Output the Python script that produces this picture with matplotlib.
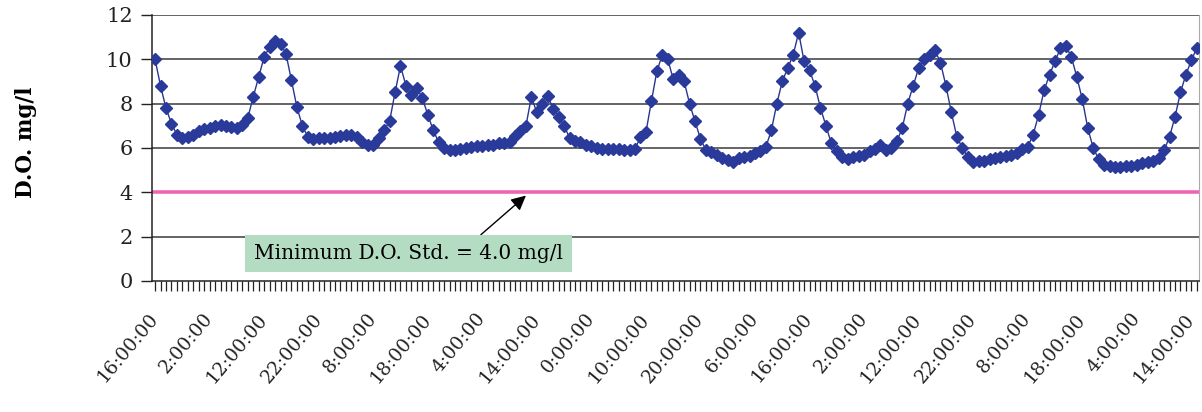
import matplotlib
matplotlib.use("Agg")
import matplotlib.pyplot as plt
import numpy as np

# Hourly dissolved-oxygen readings (mg/l), starting 16:00:00
do_values = [
    10.0, 8.8, 7.8, 7.1, 6.6, 6.45, 6.5, 6.6, 6.75, 6.85, 6.9, 7.0, 7.05, 7.0, 6.95, 6.9,
    7.05, 7.35, 8.3, 9.2, 10.1, 10.55, 10.8, 10.7, 10.25, 9.05, 7.85, 7.0, 6.5, 6.4,
    6.45, 6.45, 6.45, 6.5, 6.55, 6.6, 6.6, 6.5, 6.25, 6.15, 6.15, 6.45, 6.8, 7.2, 8.5, 9.7,
    8.8, 8.4, 8.7, 8.25, 7.5, 6.8, 6.25, 6.0, 5.9, 5.92, 5.95, 6.0, 6.02, 6.1, 6.1, 6.12,
    6.15, 6.2, 6.2, 6.25, 6.55, 6.75, 7.0, 8.3, 7.6, 8.0, 8.35, 7.75, 7.4, 7.0, 6.45, 6.3,
    6.25, 6.15, 6.1, 6.0, 5.97, 5.95, 5.93, 5.93, 5.9, 5.9, 5.95, 6.5, 6.7, 8.1, 9.45, 10.2,
    10.0, 9.1, 9.3, 9.0, 8.0, 7.2, 6.4, 5.9, 5.8, 5.7, 5.55, 5.45, 5.35, 5.55, 5.6, 5.65,
    5.75, 5.85, 6.05, 6.8, 8.0, 9.0, 9.6, 10.2, 11.2, 9.9, 9.5, 8.8, 7.8, 7.0, 6.2, 5.85,
    5.6, 5.5, 5.6, 5.65, 5.7, 5.85, 5.95, 6.15, 5.9, 6.0, 6.3, 6.9, 8.0, 8.8, 9.6, 10.0,
    10.2, 10.4, 9.85, 8.8, 7.6, 6.5, 6.0, 5.6, 5.35, 5.4, 5.42, 5.48, 5.55, 5.6, 5.65, 5.7,
    5.78, 5.95, 6.05, 6.6, 7.5, 8.6, 9.3, 9.9, 10.5, 10.6, 10.1, 9.2, 8.2, 6.9, 6.0, 5.5,
    5.25, 5.17, 5.14, 5.15, 5.18, 5.2, 5.25, 5.3, 5.37, 5.42, 5.55, 5.9, 6.5, 7.4, 8.5, 9.3,
    9.95, 10.5,
]

time_labels = ["16:00:00", "2:00:00", "12:00:00", "22:00:00", "8:00:00", "18:00:00",
               "4:00:00", "14:00:00", "0:00:00", "10:00:00", "20:00:00", "6:00:00",
               "16:00:00", "2:00:00", "12:00:00", "22:00:00", "8:00:00", "18:00:00",
               "4:00:00", "14:00:00"]
label_step = 10

min_std = 4.0
y_ticks = [0, 2, 4, 6, 8, 10, 12]
annotation_text = "Minimum D.O. Std. = 4.0 mg/l"

serif = ["DejaVu Serif"]

fig = plt.figure(figsize=(12.02, 4.12), dpi=100)
ax = fig.add_axes([0.1265, 0.318, 0.871, 0.646])

x = np.arange(len(do_values))

# grid lines
for yv in y_ticks[1:]:
    ax.axhline(yv, color="#3a3a3a", lw=1.1, zorder=1)

# minimum standard line
ax.axhline(min_std, color="#f064b4", lw=2.6, zorder=2)

ax.plot(x, do_values, color="#283592", lw=1.0, marker="D", markersize=6.3,
        markerfacecolor="#2a3a9a", markeredgecolor="#2a3a9a", zorder=3)

ax.set_xlim(-0.55, len(do_values) - 0.6)
ax.set_ylim(0, 12)

ax.set_yticks(y_ticks)
ax.set_yticklabels([str(v) for v in y_ticks], fontsize=15, family=serif)
ax.tick_params(axis="y", direction="out", length=8, width=1.0, pad=6, colors="#222222")

major = list(range(0, label_step * len(time_labels), label_step))
ax.set_xticks(major)
ax.set_xticklabels(time_labels, rotation=50, ha="right", va="center",
                   rotation_mode="anchor", fontsize=13.5, family=serif)
ax.set_xticks(np.arange(0, len(do_values)), minor=True)
ax.tick_params(axis="x", which="both", direction="out", length=7, width=0.9, pad=18,
               colors="#222222")

for s in ["left", "bottom"]:
    ax.spines[s].set_color("#222222")
    ax.spines[s].set_linewidth(1.1)
ax.spines["top"].set_visible(False)
ax.spines["right"].set_color("#aaaaaa")
ax.spines["right"].set_linewidth(0.8)

ax.set_ylabel("D.O. mg/l", fontsize=15.5, fontweight="bold", family=serif)
ax.yaxis.set_label_coords(-0.11, 0.52)

ax.annotate(annotation_text, xy=(68.0, 3.85), xytext=(46.5, 1.25),
            fontsize=14.5, family=serif, ha="center", va="center",
            bbox=dict(boxstyle="square,pad=0.45", facecolor="#b3dcc3", edgecolor="none"),
            arrowprops=dict(arrowstyle="-|>", color="black", lw=1.0,
                            mutation_scale=22, shrinkA=0, shrinkB=0,
                            relpos=(0.7, 1.0)),
            zorder=5)

fig.savefig("out.png", dpi=100, facecolor="white")
